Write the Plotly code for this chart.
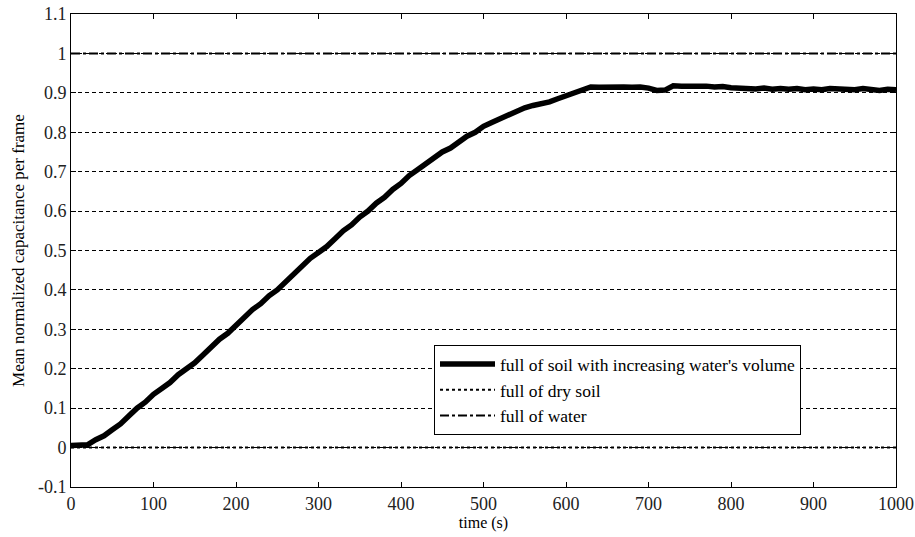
import plotly.graph_objects as go

# time (s) sampled every 10 s
t = list(range(0, 1001, 10))
soil_water = [
    0.005, 0.005, 0.007, 0.020, 0.030, 0.045, 0.060, 0.080, 0.100, 0.115,
    0.135, 0.150, 0.165, 0.185, 0.200, 0.215, 0.235, 0.255, 0.275, 0.290,
    0.310, 0.330, 0.350, 0.365, 0.385, 0.400, 0.420, 0.440, 0.460, 0.480,
    0.495, 0.510, 0.530, 0.550, 0.565, 0.585, 0.600, 0.620, 0.635, 0.655,
    0.670, 0.690, 0.705, 0.720, 0.735, 0.750, 0.760, 0.775, 0.790, 0.800,
    0.815, 0.825, 0.835, 0.845, 0.855, 0.862, 0.868, 0.872, 0.877, 0.885,
    0.893, 0.900, 0.910, 0.915, 0.914, 0.915, 0.913, 0.915, 0.914, 0.915,
    0.912, 0.906, 0.907, 0.918, 0.917, 0.918, 0.916, 0.917, 0.915, 0.916,
    0.913, 0.911, 0.912, 0.910, 0.912, 0.909, 0.911, 0.909, 0.911, 0.908,
    0.910, 0.908, 0.911, 0.909, 0.910, 0.908, 0.911, 0.909, 0.906, 0.909,
    0.908,
]
dry_soil_x = [0, 1000]
dry_soil_y = [0, 0]
water_x = [0, 1000]
water_y = [1, 1]

x_ticks = [0, 100, 200, 300, 400, 500, 600, 700, 800, 900, 1000]
y_ticks = [-0.1, 0, 0.1, 0.2, 0.3, 0.4, 0.5, 0.6, 0.7, 0.8, 0.9, 1.0, 1.1]
y_tick_text = ["-0.1", "0", "0.1", "0.2", "0.3", "0.4", "0.5", "0.6", "0.7", "0.8", "0.9", "1", "1.1"]

fig = go.Figure()
fig.add_trace(go.Scatter(
    x=t, y=soil_water, mode="lines", line=dict(color="black", width=5.5),
    name="full of soil with increasing water's volume"))
fig.add_trace(go.Scatter(
    x=dry_soil_x, y=dry_soil_y, mode="lines", line=dict(color="black", width=2, dash="dot"),
    name="full of dry soil"))
fig.add_trace(go.Scatter(
    x=water_x, y=water_y, mode="lines", line=dict(color="black", width=2, dash="dashdot"),
    name="full of water"))

serif = "Liberation Serif, DejaVu Serif, serif"
tickfont = dict(family="Liberation Sans Narrow", size=18, color="#222")

fig.update_layout(
    width=915, height=537,
    margin=dict(l=71, r=19, t=14, b=50),
    plot_bgcolor="white", paper_bgcolor="white",
    showlegend=True,
    legend=dict(
        x=0.44, y=0.3, xanchor="left", yanchor="top",
        bgcolor="white", bordercolor="black", borderwidth=1,
        font=dict(family=serif, size=17.5, color="black"),
        tracegroupgap=0, itemwidth=55,
    ),
    xaxis=dict(
        range=[0, 1000], tickvals=x_ticks, ticks="inside", ticklen=5, tickcolor="black",
        showline=True, linecolor="black", linewidth=1, mirror="ticks", automargin=False,
        showgrid=False, zeroline=False, tickfont=tickfont,
        title=dict(text="time (s)", font=dict(family=serif, size=16, color="black"), standoff=2),
    ),
    yaxis=dict(
        range=[-0.1, 1.1], tickvals=y_ticks, ticktext=y_tick_text, ticks="inside", ticklen=5,
        tickcolor="black", showline=True, linecolor="black", linewidth=1, mirror="ticks",
        automargin=False,
        showgrid=True, gridcolor="black", gridwidth=1, griddash="4px,3px", zeroline=False,
        tickfont=tickfont,
        title=dict(text="Mean normalized capacitance per frame",
                   font=dict(family=serif, size=17, color="black"), standoff=8),
    ),
)

fig.write_html("out.html")
